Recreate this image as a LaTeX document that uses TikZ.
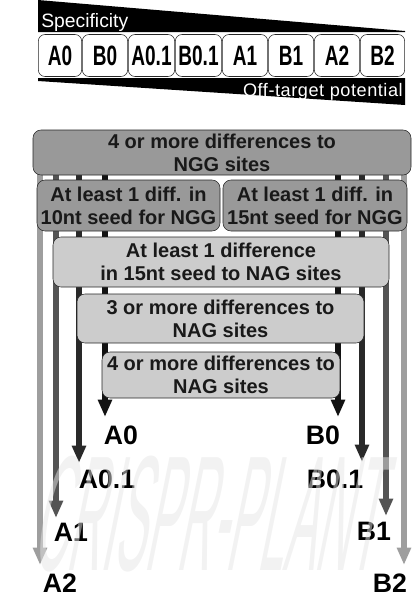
\documentclass[tikz,border=0pt]{standalone}
\usepackage{fontspec}
\setmainfont{Liberation Sans}
\usetikzlibrary{arrows.meta}

\definecolor{boxdark}{gray}{0.6}
\definecolor{boxlight}{gray}{0.8}
\definecolor{flowA}{gray}{0.07}
\definecolor{flowB}{gray}{0.16}
\definecolor{flowC}{gray}{0.33}
\definecolor{flowD}{gray}{0.62}

\tikzset{
  lvlbox/.style={draw=black!85, rounded corners=6pt, align=center, inner sep=0pt,
    font=\fontsize{15}{17.25}\selectfont\bfseries, text=black!90},
  rankbox/.style={draw=black!85, rounded corners=5pt, fill=white, inner sep=0pt,
    minimum height=31.5pt, font=\fontsize{21}{21}\selectfont\bfseries},
  endlbl/.style={inner sep=0pt, font=\fontsize{20}{20}\selectfont\bfseries},
  flow/.style={line width=4.8pt, -{Triangle[width=10pt,length=13pt]}},
}
\newcommand{\squeeze}[1]{\scalebox{0.68}[1]{#1}}

\begin{document}
\begin{tikzpicture}[x=0.75pt, y=-0.75pt]
    \useasboundingbox (0,0) rectangle (412,594);
    % specificity / off-target wedges
    \fill (38,0)--(405,31)--(405,32)--(38,32)--cycle;
    \fill (38,78)--(405,78)--(405,105)--(38,81)--cycle;
    \node[anchor=base west, inner sep=0pt, text=white] (spec) at (41,27)
        {\fontsize{14.5}{14.5}\selectfont Specificity};
    \node[anchor=base east, inner sep=0pt, text=white] (offt) at (403,96)
        {\fontsize{13.6}{13.6}\selectfont\addfontfeature{LetterSpace=3}Off-target potential};
    % ranking row
    \foreach \lbl/\xl/\xr [count=\i] in {A0/38/82, B0/82/128, A0.1/128/175, B0.1/175/222,
        A1/222/268, B1/268/314, A2/314/360, B2/360/405}{
      \pgfmathsetmacro\rankw{(\xr-\xl-0.6)*0.75}
      \node[rankbox, minimum width=\rankw pt] (rank\i) at ({(\xl+\xr)/2},55.5) {\squeeze{\lbl}};
    }
    % flow lines
    \coordinate (sA2) at (40,140);   \coordinate (eA2) at (40,565);
    \coordinate (sA1) at (56,140);   \coordinate (eA1) at (56,518);
    \coordinate (sA01) at (79,140);  \coordinate (eA01) at (79,463);
    \coordinate (sA0) at (105,140);  \coordinate (eA0) at (105,417);
    \coordinate (sB0) at (338,140);  \coordinate (eB0) at (338,417);
    \coordinate (sB01) at (362,140); \coordinate (eB01) at (362,462);
    \coordinate (sB1) at (386,140);  \coordinate (eB1) at (386,516);
    \coordinate (sB2) at (404,140);  \coordinate (eB2) at (404,565);
    \draw[flow, flowD] (sA2) -- (eA2);
    \draw[flow, flowC] (sA1) -- (eA1);
    \draw[flow, flowB] (sA01) -- (eA01);
    \draw[flow, flowA] (sA0) -- (eA0);
    \draw[flow, flowA] (sB0) -- (eB0);
    \draw[flow, flowB] (sB01) -- (eB01);
    \draw[flow, flowC] (sB1) -- (eB1);
    \draw[flow, flowD] (sB2) -- (eB2);
    % filters
    \node[lvlbox, fill=boxdark, minimum width=283.5pt, minimum height=33.75pt] (ngg4)
        at (222,152.5) {4 or more differences to\\NGG sites};
    \node[lvlbox, fill=boxdark, minimum width=137.25pt, minimum height=38.25pt] (seed10)
        at (128.5,205.5) {At least 1 diff. in\\10nt seed for NGG};
    \node[lvlbox, fill=boxdark, minimum width=138pt, minimum height=38.25pt] (seed15)
        at (315,205.5) {At least 1 diff. in\\15nt seed for NGG};
    \node[lvlbox, fill=boxlight, minimum width=252pt, minimum height=37.5pt] (nagseed)
        at (221,262) {At least 1 difference\\in 15nt seed to NAG sites};
    \node[lvlbox, fill=boxlight, minimum width=215.25pt, minimum height=36.75pt] (nag3)
        at (220.5,318.5) {3 or more differences to\\NAG sites};
    \node[lvlbox, fill=boxlight, minimum width=178.5pt, minimum height=34.5pt] (nag4)
        at (221,375) {4 or more differences to\\NAG sites};
    % end labels
    \node[endlbl] (lA0) at (121,435) {A0};
    \node[endlbl] (lA01) at (107,479) {A0.1};
    \node[endlbl] (lA1) at (71,532) {A1};
    \node[endlbl] (lA2) at (60,583) {A2};
    \node[endlbl] (lB0) at (323,435) {B0};
    \node[endlbl] (lB01) at (335,479) {B0.1};
    \node[endlbl] (lB1) at (374,531) {B1};
    \node[endlbl] (lB2) at (390,583) {B2};
    % watermark
    \begin{scope}[shift={(204,570)}, xslant=0.2]
    \node[transform shape, anchor=base, inner sep=0pt, text=black!10, text opacity=0.5] (wmark)
        at (0,0) {\scalebox{0.287}[1]{\fontsize{123}{123}\selectfont CRISPR-PLANT}};
    \end{scope}
\end{tikzpicture}
\end{document}
